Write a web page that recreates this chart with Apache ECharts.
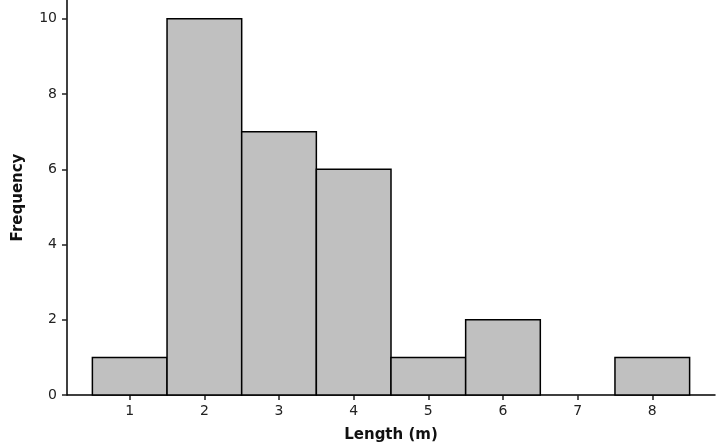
<!DOCTYPE html>
<html><head><meta charset="utf-8">
<script src="https://cdn.jsdelivr.net/npm/echarts@6/dist/echarts.min.js"></script>
<style>html,body{margin:0;padding:0;background:#fff}#c{width:716px;height:447px}</style>
</head><body><div id="c"></div>
<script>
const binStarts = [0.5, 1.5, 2.5, 3.5, 4.5, 5.5, 6.5, 7.5];
const binEnds = [1.5, 2.5, 3.5, 4.5, 5.5, 6.5, 7.5, 8.5];
const counts = [1, 10, 7, 6, 1, 2, 0, 1];
const xTicks = [1, 2, 3, 4, 5, 6, 7, 8];
const yTicks = [0, 2, 4, 6, 8, 10];

const data = binStarts.map((s, i) => [s, binEnds[i], counts[i]]);
const chart = echarts.init(document.getElementById('c'));
const font = '"DejaVu Sans", Verdana, sans-serif';
chart.setOption({
  animation: false,
  grid: {left: 67, right: 1, top: 0, bottom: 52, containLabel: false, outerBoundsMode: 'none'},
  xAxis: {
    type: 'value', min: 0.16, max: 8.84,
    name: 'Length (m)', nameLocation: 'middle', nameGap: 33,
    nameTextStyle: {fontFamily: font, fontWeight: 'bold', fontSize: 15, color: '#111'},
    axisLine: {show: true, lineStyle: {color: '#000', width: 1.5}},
    axisTick: {show: true, inside: false, length: 5, interval: 0, customValues: xTicks, lineStyle: {color: '#222', width: 1.5}},
    axisLabel: {customValues: xTicks, fontFamily: font, fontSize: 14, color: '#222', margin: 9},
    splitLine: {show: false}
  },
  yAxis: {
    type: 'value', min: 0, max: 10.5, interval: 2,
    name: 'Frequency', nameLocation: 'middle', nameGap: 41, nameRotate: 90,
    nameTextStyle: {fontFamily: font, fontWeight: 'bold', fontSize: 15, color: '#111'},
    axisLine: {show: true, lineStyle: {color: '#000', width: 1.5}},
    axisTick: {show: true, inside: false, length: 5, lineStyle: {color: '#222', width: 1.5}},
    axisLabel: {showMaxLabel: false, fontFamily: font, fontSize: 14, color: '#222', margin: 10},
    splitLine: {show: false}
  },
  series: [{
    type: 'custom',
    data: data,
    encode: {x: [0, 1], y: 2},
    renderItem: function (params, api) {
      const v = api.value(2);
      if (!v) return null;
      const p0 = api.coord([api.value(0), v]);
      const p1 = api.coord([api.value(1), 0]);
      return {
        type: 'rect',
        shape: {x: p0[0], y: p0[1], width: p1[0] - p0[0], height: p1[1] - p0[1]},
        style: {fill: '#c0c0c0', stroke: '#000', lineWidth: 1.5}
      };
    }
  }]
});
</script></body></html>
